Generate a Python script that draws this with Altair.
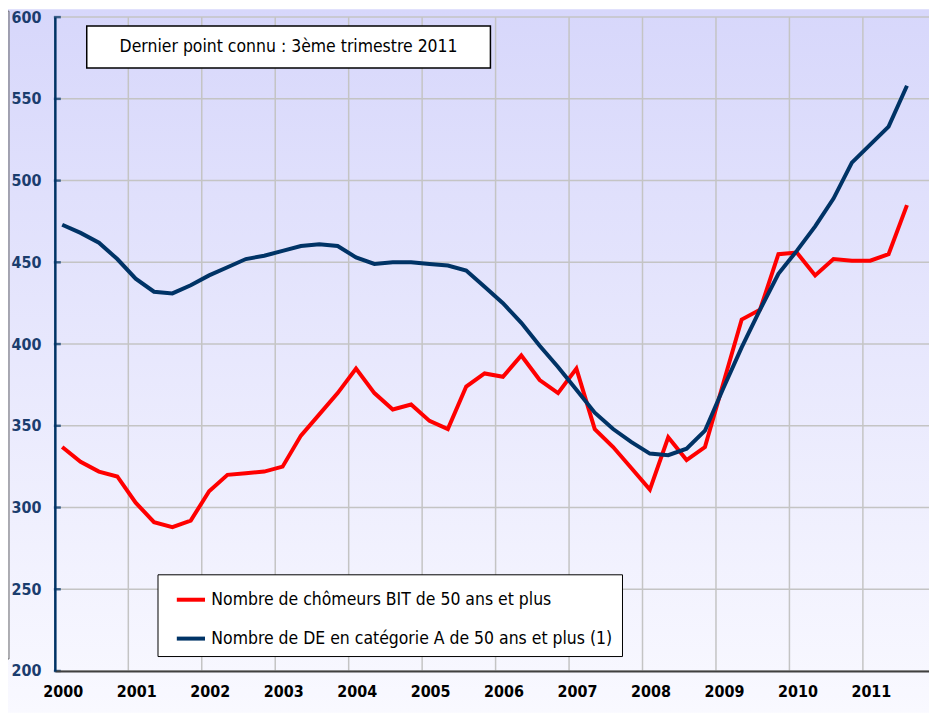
import altair as alt
import pandas as pd

years = list(range(2000, 2012))
series_names = ["Nombre de chômeurs BIT de 50 ans et plus",
                "Nombre de DE en catégorie A de 50 ans et plus (1)"]

bit_50 = [337, 328, 322, 319,
          303, 291, 288, 292,
          310, 320, 321, 322,
          325, 344, 357, 370,
          385, 370, 360, 363,
          353, 348, 374, 382,
          380, 393, 378, 370,
          385, 348, 337, 324,
          311, 343, 329, 337,
          376, 415, 421, 455,
          456, 442, 452, 451,
          451, 455, 485]

de_cat_a_50 = [473, 468, 462, 452,
               440, 432, 431, 436,
               442, 447, 452, 454,
               457, 460, 461, 460,
               453, 449, 450, 450,
               449, 448, 445, 435,
               425, 413, 399, 386,
               372, 358, 348, 340,
               333, 332, 336, 347,
               373, 398, 421, 443,
               457, 472, 489, 511,
               522, 533, 558]

y_ticks = [200, 250, 300, 350, 400, 450, 500, 550, 600]
note_text = "Dernier point connu : 3ème trimestre 2011"

rows = []
for name, vals in zip(series_names, [bit_50, de_cat_a_50]):
    for i, v in enumerate(vals):
        rows.append({"t": 2000.1 + i / 4.0, "v": v, "serie": name})
df = pd.DataFrame(rows)

W, H = 877, 656
FONT = "'Liberation Sans Narrow', 'Arial Narrow', 'DejaVu Sans Condensed', sans-serif"
XS = alt.Scale(domain=[2000, 2011.9], nice=False, zero=False)
YS = alt.Scale(domain=[200, 600], nice=False, zero=False)

XA = alt.Axis(values=years, format="d", title=None, grid=False, zindex=1,
              domainColor="#404040", domainWidth=2, ticks=False,
              labelFlush=False, labelOverlap=False,
              labelOffset=8, labelPadding=13, labelFontSize=16,
              labelFontWeight="bold", labelColor="#000000", labelFont=FONT)
YA = alt.Axis(values=y_ticks, title=None, grid=False, zindex=1,
              domainColor="#003366", domainWidth=2.5, ticks=False,
              labelFlush=False, labelOverlap=False,
              labelPadding=14, labelFontSize=16,
              labelFontWeight="bold", labelColor="#1b3d6e", labelFont=FONT)

one = pd.DataFrame({"a": [0]})

grad = alt.LinearGradient(
    gradient="linear",
    stops=[alt.GradientStop(color="#d7d7fb", offset=0),
           alt.GradientStop(color="#f9f9ff", offset=1)],
    x1=0, x2=0, y1=0, y2=1)

bg = alt.Chart(one).mark_rect(color=grad).encode(
    x=alt.value(-47), x2=alt.value(W + 5), y=alt.value(-8), y2=alt.value(H + 42))

left_panel = alt.Chart(one).mark_rect(fillOpacity=0, stroke="#666666", strokeWidth=1).encode(
    x=alt.value(-80), x2=alt.value(-46), y=alt.value(-6), y2=alt.value(644))

vgrid = alt.Chart(pd.DataFrame({"yr": years})).mark_rule(
    color="#c4c4c4", strokeWidth=1.5).encode(
    x=alt.X("yr:Q", scale=XS, axis=XA))

hgrid = alt.Chart(pd.DataFrame({"yv": y_ticks})).mark_rule(
    color="#c4c4c4", strokeWidth=1.5).encode(
    y=alt.Y("yv:Q", scale=YS, axis=YA))

yticks_in = alt.Chart(pd.DataFrame({"yv": y_ticks})).mark_tick(
    orient="horizontal", size=7, thickness=2.5, color="#003366").encode(
    y=alt.Y("yv:Q", scale=YS, axis=YA), x=alt.value(2.5))

lines = alt.Chart(df).mark_line(strokeWidth=4, strokeJoin="miter").encode(
    x=alt.X("t:Q", scale=XS, axis=XA),
    y=alt.Y("v:Q", scale=YS, axis=YA),
    color=alt.Color("serie:N",
                    scale=alt.Scale(domain=series_names, range=["#ff0000", "#003366"]),
                    legend=alt.Legend(orient="none", legendX=103, legendY=559,
                                      title=None, fillColor="white",
                                      strokeColor="#000000", padding=9,
                                      symbolType="stroke", symbolStrokeWidth=4,
                                      symbolSize=800, symbolOffset=8,
                                      labelFontSize=17.5, labelFont=FONT,
                                      labelColor="#000000", labelLimit=600,
                                      labelOffset=4, rowPadding=14)),
    order=alt.Order("t:Q"),
)

note_box = alt.Chart(one).mark_rect(fill="white", stroke="#000000", strokeWidth=1.5).encode(
    x=alt.value(32), x2=alt.value(437), y=alt.value(9), y2=alt.value(51))

note = alt.Chart(one).mark_text(fontSize=17.5, font=FONT, color="#000000",
                                align="center", baseline="middle").encode(
    x=alt.value(234.5), y=alt.value(30), text=alt.value(note_text))

chart = alt.layer(bg, left_panel, vgrid, hgrid, yticks_in, lines, note_box, note).properties(
    width=W, height=H,
    autosize=alt.AutoSizeParams(type="none"),
    padding={"left": 47, "top": 8, "right": 0, "bottom": 42},
).configure_view(stroke=None)

chart.save("out.html", embed_options={"renderer": "svg", "actions": False})
